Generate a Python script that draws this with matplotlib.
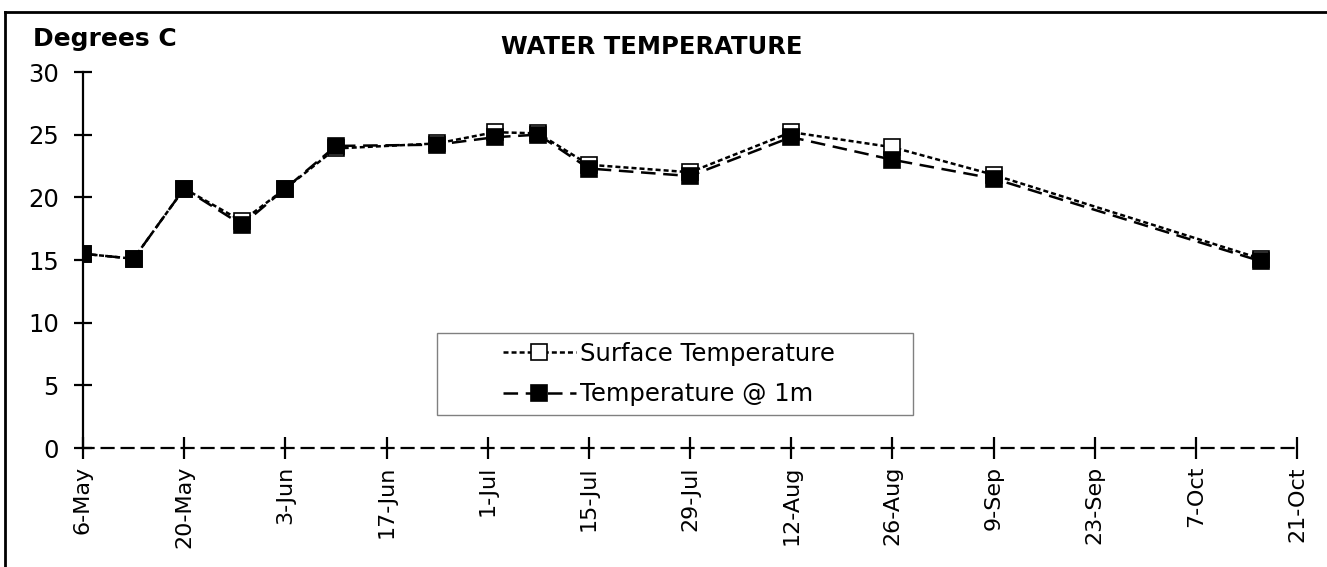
import matplotlib
matplotlib.use("Agg")
import matplotlib.pyplot as plt
import matplotlib.dates as mdates
from matplotlib.lines import Line2D
from matplotlib.patches import Rectangle
import pandas as pd

plt.rcParams['font.family'] = ['DejaVu Sans']
plt.rcParams['lines.scale_dashes'] = False

# sampling dates and readings (deg C)
dates = ["2002-05-06", "2002-05-13", "2002-05-20", "2002-05-28", "2002-06-03",
         "2002-06-10", "2002-06-24", "2002-07-02", "2002-07-08", "2002-07-15",
         "2002-07-29", "2002-08-12", "2002-08-26", "2002-09-09", "2002-10-16"]
surface = [15.5, 15.1, 20.7, 18.1, 20.7, 23.9, 24.3, 25.2, 25.1, 22.6,
           22.0, 25.2, 24.0, 21.8, 15.1]
at_1m = [15.5, 15.1, 20.7, 17.8, 20.7, 24.1, 24.2, 24.8, 25.0, 22.3,
         21.7, 24.8, 23.0, 21.5, 14.9]
tick_dates = pd.date_range("2002-05-06", "2002-10-21", freq="14D")
yticks = [0, 5, 10, 15, 20, 25, 30]

x = pd.to_datetime(dates)

fig = plt.figure(figsize=(13.27, 5.67), dpi=100)
ax = fig.add_axes([83/1327, 1 - 448/567, (1297-83)/1327, (448-72)/567])

ax.plot(x, surface, color='black', lw=1.8, dashes=(3.6, 2.2),
        marker='s', ms=11, mfc='white', mec='black', mew=1.2,
        label='Surface Temperature', zorder=3)
ax.plot(x, at_1m, color='black', lw=1.8, dashes=(10.5, 5.5),
        marker='s', ms=11, mfc='black', mec='black', mew=1.2,
        label='Temperature @ 1m', zorder=4)

ax.set_xlim(tick_dates[0], tick_dates[-1])
ax.set_ylim(0, 30)
ax.set_xticks(tick_dates)
ax.xaxis.set_major_formatter(
    matplotlib.ticker.FuncFormatter(
        lambda v, p: f"{mdates.num2date(v).day}-{mdates.num2date(v).strftime('%b')}"))
ax.set_yticks(yticks)

for s in ['top', 'right']:
    ax.spines[s].set_visible(False)
ax.spines['left'].set_linewidth(1.6)
ax.spines['bottom'].set_linewidth(1.6)
ax.spines['bottom'].set_linestyle((1, (8.6, 5.8)))

ax.tick_params(axis='y', direction='inout', length=13, width=1.6, pad=11,
               labelsize=17.5)
ax.tick_params(axis='x', direction='inout', length=16, width=1.6, pad=5,
               labelsize=16, labelrotation=90)

# legend box
ax.add_patch(Rectangle(((437-83)/1214, (448-415)/376),
                       (913-437)/1214, (415-333)/376,
                       transform=ax.transAxes, facecolor='white',
                       edgecolor='#808080', lw=1, zorder=5))
leg = ax.legend(loc='center left', bbox_to_anchor=((503-83)/1214, 0.197),
                frameon=False, fontsize=17.5, handlelength=3.0,
                handletextpad=0.15, labelspacing=0.68, borderpad=0,
                borderaxespad=0)
leg.set_zorder(6)

fig.text(652/1327, 1 - 47/567, "WATER TEMPERATURE", ha='center',
         va='center', fontsize=17.5, fontweight='bold')
fig.text(33/1327, 1 - 39/567, "Degrees C", ha='left', va='center',
         fontsize=18, fontweight='bold')

# outer frame (top and left only visible)
fig.add_artist(Line2D([5/1327, 5/1327], [0, 1 - 12/567], color='black',
                      lw=2, transform=fig.transFigure))
fig.add_artist(Line2D([5/1327, 1], [1 - 12/567, 1 - 12/567], color='black',
                      lw=2, transform=fig.transFigure))

fig.savefig("out.png", dpi=100)
